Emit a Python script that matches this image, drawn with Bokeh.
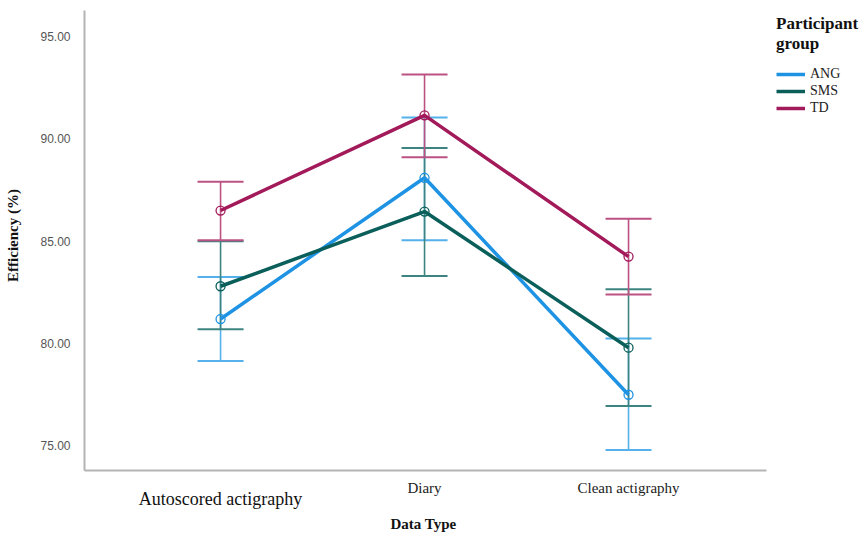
from bokeh.plotting import figure
from bokeh.models import (ColumnDataSource, Range1d, Whisker, TeeHead, Legend, LegendItem,
                          FixedTicker, LinearAxis, Title)
from bokeh.embed import file_html
from bokeh.resources import INLINE

categories = ["Autoscored actigraphy", "Diary", "Clean actigraphy"]
xpos = [1, 2, 3]
groups = ["ANG", "SMS", "TD"]
colors = ["#1e93e4", "#0b5f5a", "#a21a5a"]
bar_colors = ["#55b1ec", "#3d8480", "#bb5282"]

ang_mean = [81.2, 88.1, 77.5]
ang_lo = [79.15, 85.05, 74.8]
ang_hi = [83.25, 91.05, 80.25]

sms_mean = [82.8, 86.45, 79.8]
sms_lo = [80.7, 83.3, 76.95]
sms_hi = [85.0, 89.55, 82.65]

td_mean = [86.5, 91.15, 84.25]
td_lo = [85.05, 89.1, 82.4]
td_hi = [87.9, 93.15, 86.1]

y_ticks = [75, 80, 85, 90, 95]

serif = "Liberation Serif"

# axis extents (drawn part) and the wider frame ranges (room for the legend)
x_axis_bounds = (0.333, 3.676)
y_axis_bounds = (73.8, 96.27)

p = figure(width=862, height=533, output_backend="svg", toolbar_location=None,
           x_range=Range1d(0.333, 4.147), y_range=Range1d(73.8, 96.76),
           min_border_left=84, min_border_right=0, min_border_top=0, min_border_bottom=40)
p.grid.visible = False
p.outline_line_color = None
p.background_fill_color = "white"
p.border_fill_color = "white"

# main x axis: Diary and Clean actigraphy
p.xaxis.ticker = FixedTicker(ticks=xpos)
p.xaxis.bounds = x_axis_bounds
p.xaxis.major_label_overrides = {1: "", 2: categories[1], 3: categories[2]}
p.xaxis.major_label_text_font = serif
p.xaxis.major_label_text_font_size = "15px"
p.xaxis.major_label_text_color = "#222222"
p.xaxis.major_label_standoff = 3

# second axis below: the larger first category label
ax2 = LinearAxis(ticker=FixedTicker(ticks=[xpos[0]]), bounds=x_axis_bounds,
                 major_label_overrides={1: categories[0]})
ax2.major_label_text_font = serif
ax2.major_label_text_font_size = "18px"
ax2.major_label_text_color = "#111111"
ax2.major_label_standoff = -16
ax2.axis_line_color = None
p.add_layout(ax2, "below")

# x axis title, centred under the drawn axis
p.add_layout(Title(text="Data Type", align="left", offset=306, standoff=4,
                   text_font=serif, text_font_style="bold", text_font_size="15px",
                   text_color="#111111"), "below")

p.yaxis.ticker = FixedTicker(ticks=y_ticks)
p.yaxis.bounds = y_axis_bounds
p.yaxis.major_label_overrides = {t: f"{t:.2f}" for t in y_ticks}
p.yaxis.major_label_text_font = "Liberation Sans"
p.yaxis.major_label_text_font_size = "12px"
p.yaxis.major_label_text_color = "#555555"
p.yaxis.major_label_standoff = 8
p.yaxis.axis_label = "Efficiency (%)"
p.yaxis.axis_label_text_font = serif
p.yaxis.axis_label_text_font_style = "bold"
p.yaxis.axis_label_text_font_size = "15px"
p.yaxis.axis_label_text_color = "#111111"
p.yaxis.axis_label_standoff = 16

for ax in (p.xaxis[0], ax2, p.yaxis[0]):
    ax.major_tick_line_color = None
    ax.minor_tick_line_color = None
for ax in (p.xaxis[0], p.yaxis[0]):
    ax.axis_line_color = "#b4b4b4"
    ax.axis_line_width = 2

series = [(ang_mean, ang_lo, ang_hi), (sms_mean, sms_lo, sms_hi), (td_mean, td_lo, td_hi)]
items = []
for g, c, bc, (m, lo, hi) in zip(groups, colors, bar_colors, series):
    src = ColumnDataSource(dict(x=xpos, m=m, lo=lo, hi=hi))
    w = Whisker(base="x", lower="lo", upper="hi", source=src, dimension="height",
                line_color=bc, line_width=1.6,
                upper_head=TeeHead(size=46, line_color=bc, line_width=2),
                lower_head=TeeHead(size=46, line_color=bc, line_width=2))
    p.add_layout(w)
for g, c, bc, (m, lo, hi) in zip(groups, colors, bar_colors, series):
    src = ColumnDataSource(dict(x=xpos, m=m))
    r = p.line("x", "m", source=src, line_color=c, line_width=3.5)
    p.scatter("x", "m", source=src, marker="circle", size=9, fill_color=None,
              line_color=c, line_width=1.3)
    items.append(LegendItem(label=g, renderers=[r]))

legend = Legend(items=items, location=(692, 354), padding=0, margin=0, spacing=1,
                label_height=14, glyph_height=14, glyph_width=29, label_standoff=5,
                label_text_font=serif, label_text_font_size="14px", label_text_color="#222222",
                title="Participant\ngroup", title_text_font=serif, title_text_font_style="bold",
                title_text_font_size="17px", title_text_color="#111111",
                title_standoff=12,
                background_fill_alpha=0, border_line_color=None)
p.add_layout(legend)

open("out.html", "w").write(file_html(p, INLINE))
